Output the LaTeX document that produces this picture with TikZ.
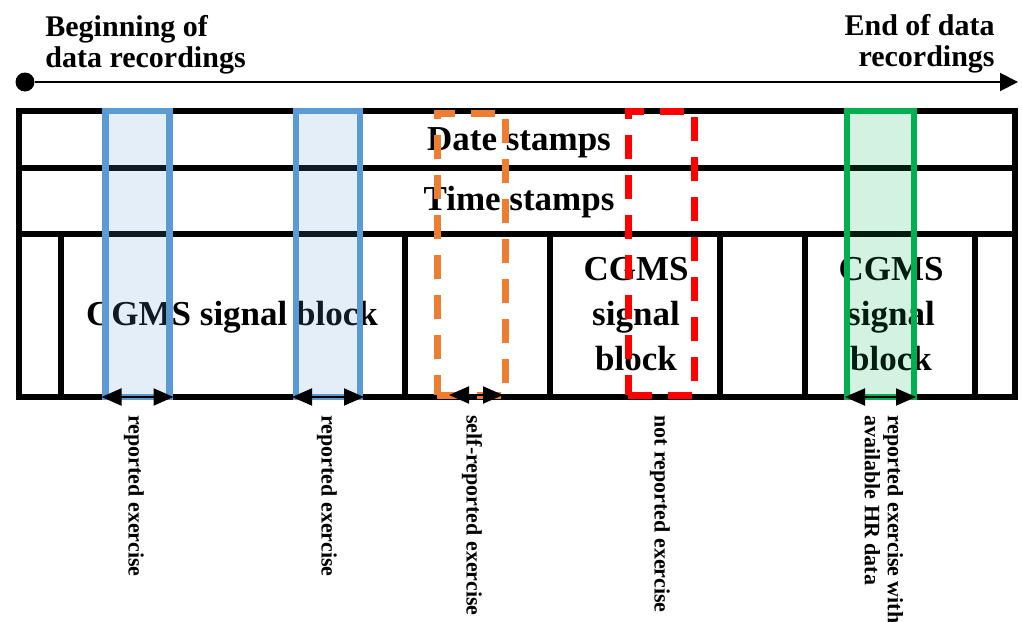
\documentclass[tikz,border=0pt]{standalone}
\usepackage{fontspec}
\setmainfont{Liberation Serif}
\usetikzlibrary{arrows.meta,fit}
\definecolor{cblue}{RGB}{91,155,213}
\definecolor{cgreen}{RGB}{0,176,80}
\definecolor{corange}{RGB}{237,125,49}
\definecolor{cred}{RGB}{255,0,0}
\begin{document}
\begin{tikzpicture}[x=0.5pt,y=-0.5pt,
  grid/.style={line width=3pt, black},
  head/.style={font=\fontsize{15}{15.5}\selectfont\bfseries, inner sep=0pt},
  lbl/.style={font=\fontsize{17.5}{22.5}\selectfont\bfseries, inner sep=0pt},
  vlab/.style={font=\fontsize{11}{11.5}\selectfont\bfseries, rotate=-90, anchor=west, inner sep=0pt},
  solidbox/.style={draw=#1, line width=3.3pt, fill=#1, fill opacity=0.17, inner sep=0pt, outer sep=0pt},
  dashbox/.style={draw=#1, line width=3.5pt, dash pattern=on 12pt off 8pt, inner sep=0pt, outer sep=0pt},
  dbl/.style={{Triangle[length=10pt,width=8.5pt]}-{Triangle[length=10pt,width=8.5pt]}, line width=1pt, black}
]
\useasboundingbox (0,0) rectangle (1022,621);

% timeline
\node[circle, fill=black, minimum size=9.5pt, inner sep=0pt] (start) at (25,82) {};
\coordinate (stop) at (1018,82);
\draw[line width=1pt, -{Triangle[length=9pt,width=9pt]}] (start) -- (stop);

\node[head, anchor=north west, align=left] (begintxt) at (45,15) {Beginning of\\data recordings};
\node[head, anchor=north east, align=right] (endtxt) at (995,14) {End of data\\recordings};

% table
\draw[grid] (19,111) rectangle (1015,397);
\draw[grid] (19,168) -- (1015,168);
\draw[grid] (19,234) -- (1015,234);
\foreach \xx in {61,405,550,720,805,975}
  \draw[grid] (\xx,234) -- (\xx,397);

\node[lbl, anchor=base] (date) at (519,150) {Date stamps};
\node[lbl, anchor=base] (time) at (519,210) {Time stamps};
\node[lbl, anchor=base] (cgmsa) at (232,325) {CGMS signal block};
\node[lbl, anchor=north, align=center] (cgmsb) at (636,256.5) {CGMS\\signal\\block};
\node[lbl, anchor=north, align=center] (cgmsc) at (891,256.5) {CGMS\\signal\\block};

% highlighted periods
\node[solidbox=cblue, fit={(105.5,111)(169.5,397)}] (r1) {};
\node[solidbox=cblue, fit={(296,111)(360,397)}] (r2) {};
\node[dashbox=corange, fit={(437,113)(505,395)}] (r3) {};
\node[dashbox=cred, fit={(628,111)(694,395)}] (r4) {};
\node[solidbox=cgreen, fit={(847,111)(914,397)}] (r5) {};

\draw[dbl, shorten <=-2pt, shorten >=-2pt] (r1.south west) -- (r1.south east);
\draw[dbl, shorten <=-2pt, shorten >=-2pt] (r2.south west) -- (r2.south east);
\draw[dbl, shorten <=6pt, shorten >=1pt] (r3.south west) -- (r3.south east);
\draw[dbl, shorten <=-1pt, shorten >=-1pt] (r5.south west) -- (r5.south east);

% labels
\node[vlab] (l1) at (134,415) {reported exercise};
\node[vlab] (l2) at (327,415) {reported exercise};
\node[vlab] (l3) at (472,415) {self-reported exercise};
\node[vlab] (l4) at (660,415) {not reported exercise};
\node[vlab, align=left] (l5) at (884,415) {reported exercise with\\available HR data};
\end{tikzpicture}
\end{document}
